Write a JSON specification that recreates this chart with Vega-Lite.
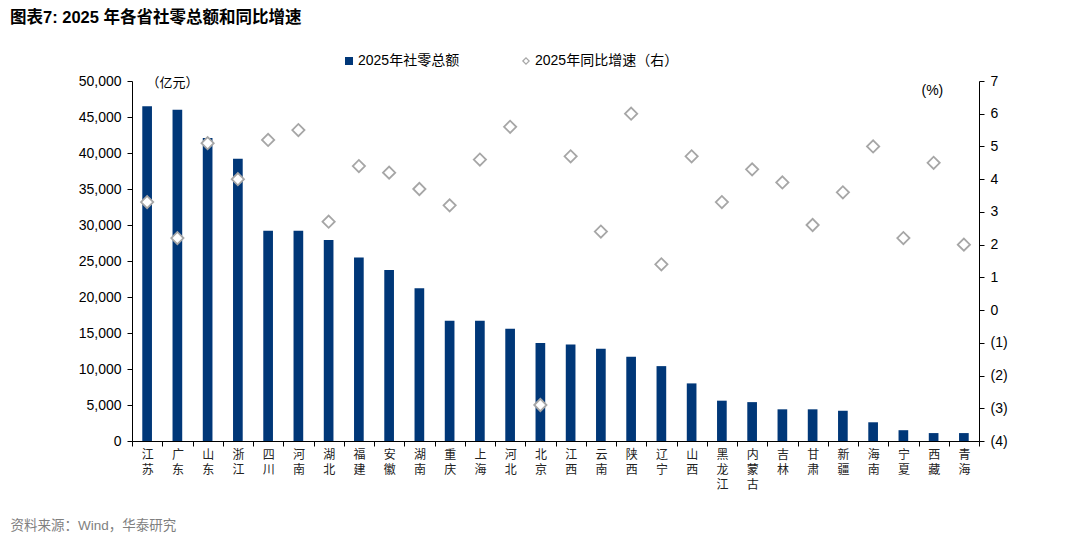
{
  "$schema": "https://vega.github.io/schema/vega-lite/v6.json",
  "autosize": "none",
  "width": 847,
  "height": 360,
  "padding": {"left": 132, "top": 81, "right": 101, "bottom": 98},
  "background": "white",
  "config": {
    "view": {"stroke": null},
    "font": "Liberation Sans, Noto Sans CJK SC",
    "axis": {"grid": false, "domainColor": "black", "tickColor": "black", "labelColor": "black", "titleColor": "black", "titleFontWeight": "normal"}
  },
  "title": {
    "text": "图表7:  2025 年各省社零总额和同比增速",
    "anchor": "start",
    "frame": "group",
    "dx": -122,
    "offset": 28,
    "fontSize": 16.5,
    "fontWeight": "bold",
    "font": "Liberation Sans, Noto Sans CJK SC",
    "color": "black"
  },
  "data": {
    "values": [
      {"province": "江苏", "retail": 46500, "growth": 3.3},
      {"province": "广东", "retail": 46000, "growth": 2.2},
      {"province": "山东", "retail": 42100, "growth": 5.1},
      {"province": "浙江", "retail": 39200, "growth": 4.0},
      {"province": "四川", "retail": 29200, "growth": 5.2},
      {"province": "河南", "retail": 29200, "growth": 5.5},
      {"province": "湖北", "retail": 27900, "growth": 2.7},
      {"province": "福建", "retail": 25500, "growth": 4.4},
      {"province": "安徽", "retail": 23750, "growth": 4.2},
      {"province": "湖南", "retail": 21200, "growth": 3.7},
      {"province": "重庆", "retail": 16700, "growth": 3.2},
      {"province": "上海", "retail": 16700, "growth": 4.6},
      {"province": "河北", "retail": 15600, "growth": 5.6},
      {"province": "北京", "retail": 13600, "growth": -2.9},
      {"province": "江西", "retail": 13400, "growth": 4.7},
      {"province": "云南", "retail": 12800, "growth": 2.4},
      {"province": "陕西", "retail": 11700, "growth": 6.0},
      {"province": "辽宁", "retail": 10400, "growth": 1.4},
      {"province": "山西", "retail": 8000, "growth": 4.7},
      {"province": "黑龙江", "retail": 5600, "growth": 3.3},
      {"province": "内蒙古", "retail": 5400, "growth": 4.3},
      {"province": "吉林", "retail": 4400, "growth": 3.9},
      {"province": "甘肃", "retail": 4400, "growth": 2.6},
      {"province": "新疆", "retail": 4200, "growth": 3.6},
      {"province": "海南", "retail": 2600, "growth": 5.0},
      {"province": "宁夏", "retail": 1500, "growth": 2.2},
      {"province": "西藏", "retail": 1100, "growth": 4.5},
      {"province": "青海", "retail": 1100, "growth": 2.0}
    ]
  },
  "encoding": {
    "x": {
      "field": "province",
      "type": "nominal",
      "sort": null,
      "scale": {"paddingInner": 0, "paddingOuter": 0},
      "axis": {
        "title": "资料来源：Wind，华泰研究",
        "titleX": -122,
        "titleY": 84,
        "titleAlign": "left",
        "titleBaseline": "middle",
        "titleAnchor": null,
        "titleFontSize": 13.5,
        "titleFont": "Liberation Sans, Noto Sans CJK SC",
        "titleColor": "#7f7f7f",
        "labelAngle": 0,
        "labelExpr": "split(datum.label, '')",
        "labelLineHeight": 15,
        "labelFontSize": 12,
        "labelFont": "Noto Sans CJK SC",
        "labelColor": "#222222",
        "labelBaseline": "top",
        "labelPadding": 3,
        "tickBand": "extent",
        "tickSize": 5
      }
    }
  },
  "layer": [
    {
      "mark": {"type": "bar", "width": {"band": 0.32}},
      "encoding": {
        "y": {
          "field": "retail",
          "type": "quantitative",
          "scale": {"domain": [0, 50000], "nice": false},
          "axis": {
            "title": "（亿元）",
            "titleAngle": 0,
            "titleX": 14,
            "titleY": 1,
            "titleAlign": "left",
            "titleBaseline": "middle",
            "titleFontSize": 13,
            "titleFont": "Noto Sans CJK SC",
            "format": ",.0f",
            "values": [0, 5000, 10000, 15000, 20000, 25000, 30000, 35000, 40000, 45000, 50000],
            "labelFontSize": 14,
            "labelPadding": 6,
            "tickSize": 5
          }
        },
        "color": {
          "datum": "2025年社零总额",
          "type": "nominal",
          "scale": {"range": ["#003778"]},
          "legend": {
            "orient": "none",
            "legendX": 210,
            "legendY": -27,
            "title": null,
            "symbolType": "square",
            "symbolSize": 64,
            "labelFontSize": 14,
            "labelOffset": 2,
            "padding": 0
          }
        }
      }
    },
    {
      "mark": {"type": "point", "shape": "diamond", "filled": true, "color": "white", "size": 150, "opacity": 1},
      "encoding": {
        "y": {
          "field": "growth",
          "type": "quantitative",
          "scale": {"domain": [-4, 7], "nice": false, "zero": false},
          "axis": null
        }
      }
    },
    {
      "mark": {"type": "point", "shape": "diamond", "filled": false, "color": "#A6A6A6", "strokeWidth": 1.8, "size": 150, "opacity": 1},
      "encoding": {
        "y": {
          "field": "growth",
          "type": "quantitative",
          "scale": {"domain": [-4, 7], "nice": false, "zero": false},
          "axis": {
            "orient": "right",
            "title": "(%)",
            "titleAngle": 0,
            "titleX": -58,
            "titleY": 9,
            "titleAlign": "left",
            "titleBaseline": "middle",
            "titleFontSize": 14,
            "values": [-4, -3, -2, -1, 0, 1, 2, 3, 4, 5, 6, 7],
            "labelExpr": "datum.value < 0 ? '(' + abs(datum.value) + ')' : datum.label",
            "labelFontSize": 14,
            "labelPadding": 6,
            "tickSize": 5
          }
        },
        "shape": {
          "datum": "2025年同比增速（右）",
          "type": "nominal",
          "scale": {"range": ["diamond"]},
          "legend": {
            "orient": "none",
            "legendX": 387,
            "legendY": -27,
            "title": null,
            "symbolSize": 40,
            "symbolStrokeColor": "#A6A6A6",
            "symbolStrokeWidth": 1.2,
            "labelFontSize": 14,
            "labelOffset": 2,
            "padding": 0
          }
        }
      }
    }
  ],
  "resolve": {"scale": {"y": "independent"}}
}
